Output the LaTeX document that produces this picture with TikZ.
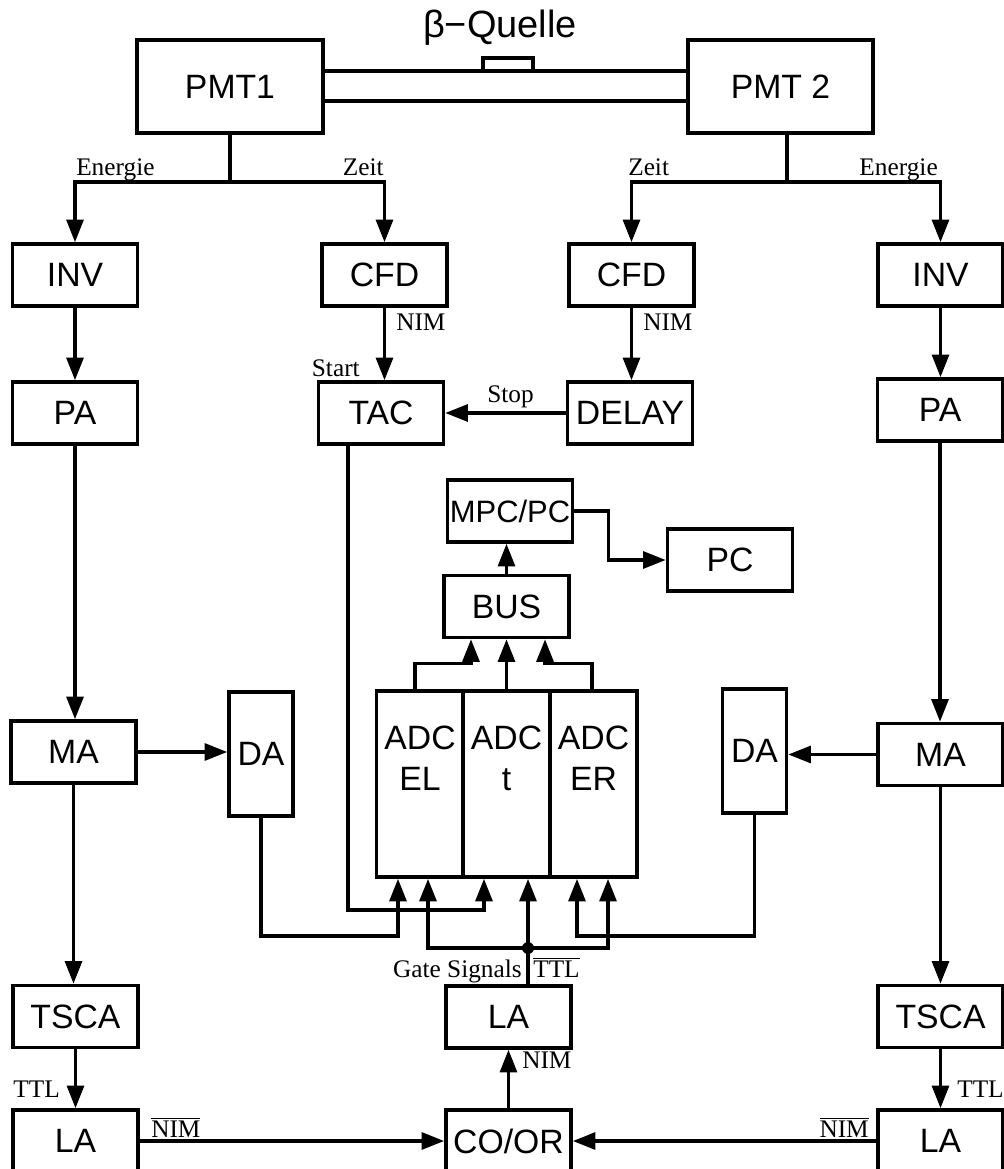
\documentclass[tikz,border=0pt]{standalone}
\usepackage{fontspec}
\setmainfont{Liberation Serif}
\setsansfont{Liberation Sans}
\usetikzlibrary{arrows.meta}
\tikzset{
  every picture/.style={>={Triangle[length=16pt,width=12pt]}},
  blk/.style={draw, line width=2.6pt, inner sep=0pt, align=center,
    font=\sffamily\fontsize{24}{29}\selectfont,
    minimum width=3.125cm, minimum height=1.55cm},
  tall/.style={blk, minimum width=1.6cm, minimum height=3.1cm},
  adc/.style={blk, minimum width=2.175cm, minimum height=4.65cm},
  wire/.style={line width=2.3pt},
  sig/.style={wire, ->},
  tag/.style={font=\fontsize{18}{20}\selectfont, inner sep=0pt},
}
\newcommand{\nimbar}{$\overline{\mbox{NIM}}$}
\newcommand{\ttlbar}{$\overline{\mbox{TTL}}$}

\begin{document}
\begin{tikzpicture}[x=0.025cm, y=-0.025cm]
  \path[use as bounding box] (0,0) rectangle (1004,1169);
  \clip (0,0) rectangle (1004,1169);

  % detectors and source
  \node[blk, minimum width=4.65cm, minimum height=2.325cm] (pmtL) at (230,86.5) {PMT1};
  \node[blk, minimum width=4.625cm, minimum height=2.325cm] (pmtR) at (780.5,86.5) {PMT 2};
  \draw[wire] (pmtL.east |- 0,71) -- (pmtR.west |- 0,71);
  \draw[wire] (pmtL.east |- 0,101) -- (pmtR.west |- 0,101);
  \draw[wire] (483,71) rectangle (533,58);
  \node[font=\sffamily\fontsize{27}{31}\selectfont] (src) at (500,28) {β−Quelle};

  % modules
  \node[blk] (invL)  at (75,275)    {INV};
  \node[blk] (cfdL)  at (384.5,275) {CFD};
  \node[blk] (cfdR)  at (631.5,275) {CFD};
  \node[blk] (invR)  at (940.5,275) {INV};
  \node[blk] (paL)   at (75,413)    {PA};
  \node[blk] (tac)   at (381,413)   {TAC};
  \node[blk] (delay) at (630,413)   {DELAY};
  \node[blk] (paR)   at (940,410)   {PA};
  \node[blk, font=\sffamily\fontsize{22}{26}\selectfont] (mpc) at (510,511) {MPC/PC};
  \node[blk] (pc)    at (730,560)   {PC};
  \node[blk] (bus)   at (506.5,606.5) {BUS};
  \node[blk] (maL)   at (73.5,752)  {MA};
  \node[tall] (daL)  at (261,754)   {DA};
  \node[adc] (adcEL) at (420,784)   {ADC\\EL\\[8pt]\mbox{}};
  \node[adc] (adcT)  at (506.5,784) {ADC\\t\\[8pt]\mbox{}};
  \node[adc] (adcER) at (593.5,784) {ADC\\ER\\[8pt]\mbox{}};
  \node[tall] (daR)  at (754.5,751) {DA};
  \node[blk] (maR)   at (940.5,754.5) {MA};
  \node[blk] (tscaL) at (75.5,1016.5) {TSCA};
  \node[blk] (laG)   at (508.5,1017) {LA};
  \node[blk] (tscaR) at (940.5,1016.5) {TSCA};
  \node[blk] (laL)   at (75.5,1141) {LA};
  \node[blk] (coor)  at (508.5,1141) {CO/OR};
  \node[blk] (laR)   at (940.5,1141) {LA};

  % energy / time split
  \coordinate (jL) at (230,182);
  \coordinate (jR) at (787,182);
  \draw[wire] (pmtL.south) -- (jL);
  \draw[sig] (jL) -| (invL.north);
  \draw[sig] (jL) -| (cfdL.north);
  \draw[wire] (jR |- pmtR.south) -- (jR);
  \draw[sig] (jR) -| (cfdR.north);
  \draw[sig] (jR) -| (invR.north);
  \node[tag, anchor=base west] (lEnL) at (76,176) {Energie};
  \node[tag, anchor=base east] (lZtL) at (384,176) {Zeit};
  \node[tag, anchor=base west] (lZtR) at (628,176) {Zeit};
  \node[tag, anchor=base east] (lEnR) at (938,176) {Energie};

  % timing branch
  \draw[sig] (cfdL.south) -- (cfdL.south |- tac.north);
  \draw[sig] (cfdR.south) -- (cfdR.south |- delay.north);
  \draw[sig] (delay.west) -- (tac.east);
  \node[tag, anchor=base west] (lNmL) at (396,330) {NIM};
  \node[tag, anchor=base west] (lNmR) at (643,330) {NIM};
  \node[tag, anchor=base east] (lSta) at (360,376) {Start};
  \node[tag, anchor=base west] (lSto) at (487,402) {Stop};

  % energy branches
  \draw[sig] (invL.south) -- (invL.south |- paL.north);
  \draw[sig] (invR.south) -- (invR.south |- paR.north);
  \draw[sig] (paL.south) -- (paL.south |- maL.north);
  \draw[sig] (paR.south) -- (paR.south |- maR.north);
  \draw[sig] (maL.east) -- (maL.east -| daL.west);
  \draw[sig] (maR.west) -- (maR.west -| daR.east);
  \draw[sig] (maL.south) -- (maL.south |- tscaL.north);
  \draw[sig] (maR.south) -- (maR.south |- tscaR.north);
  \draw[sig] (tscaL.south) -- (tscaL.south |- laL.north);
  \draw[sig] (tscaR.south) -- (tscaR.south |- laR.north);
  \node[tag, anchor=base east] (lTtL) at (60,1097) {TTL};
  \node[tag, anchor=base west] (lTtR) at (957,1097) {TTL};

  % coincidence
  \draw[sig] (laL.east) -- (coor.west);
  \draw[sig] (laR.west) -- (coor.east);
  \draw[sig] (coor.north) -- (coor.north |- laG.south);
  \node[tag, anchor=base west] (lNbL) at (151,1137) {\nimbar};
  \node[tag, anchor=base east] (lNbR) at (869,1137) {\nimbar};
  \node[tag, anchor=base west] (lNmG) at (522,1068) {NIM};

  % ADC inputs
  \coordinate (gj) at (528,948);
  \coordinate (inA) at ([xshift=-0.55cm]adcEL.south);
  \coordinate (inB) at ([xshift=0.2cm]adcEL.south);
  \coordinate (inC) at ([xshift=-0.5625cm]adcT.south);
  \coordinate (inE) at ([xshift=-0.4125cm]adcER.south);
  \coordinate (inF) at ([xshift=0.3625cm]adcER.south);
  \draw[wire] (gj |- laG.north) -- (gj);
  \fill (gj) circle[radius=6];
  \draw[sig] (gj) -- (gj |- adcT.south);
  \draw[sig] (gj) -| (inB);
  \draw[sig] (gj) -| (inF);
  \draw[sig] (daL.south) -- (daL.south |- 0,936) -| (inA);
  \draw[sig] (daR.south) -- (daR.south |- 0,936) -| (inE);
  \draw[sig] (348,0 |- tac.south) -- (348,910) -| (inC);
  \node[tag, anchor=base east] (lGat) at (522,977) {Gate Signals};
  \node[tag, anchor=base west] (lTtG) at (533,977) {\ttlbar};

  % readout
  \draw[sig] ([xshift=-0.125cm]adcEL.north) -- ++(0,-26) -| ([xshift=-0.8875cm]bus.south);
  \draw[sig] (adcT.north) -- (bus.south);
  \draw[sig] ([xshift=-0.0375cm]adcER.north) -- ++(0,-26) -| ([xshift=0.9625cm]bus.south);
  \draw[sig] (bus.north) -- (bus.north |- mpc.south);
  \draw[sig] (mpc.east) -- ++(34,0) |- (pc.west);
\end{tikzpicture}
\end{document}
